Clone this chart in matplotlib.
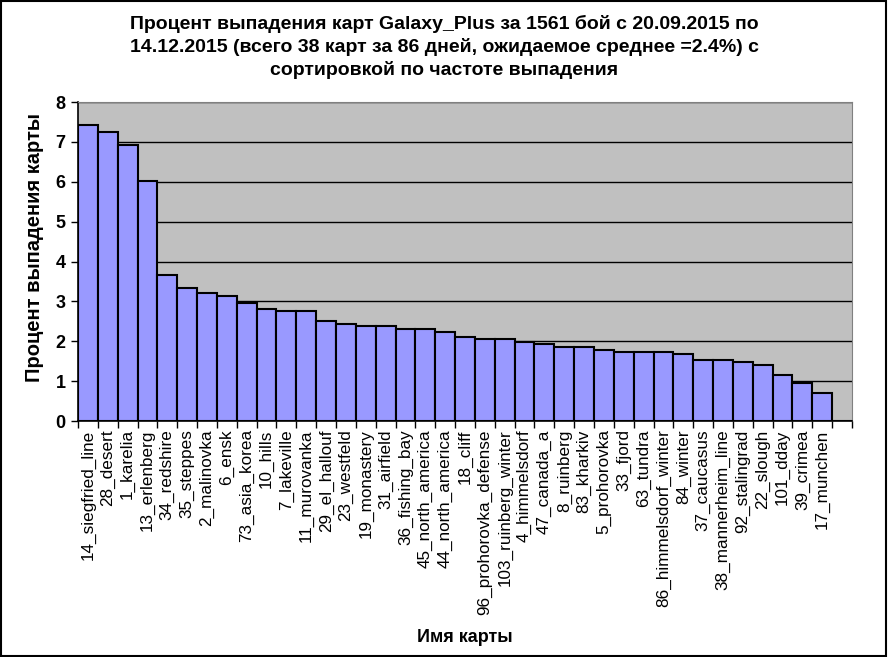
import matplotlib
matplotlib.use('Agg')
import matplotlib.pyplot as plt
import numpy as np

# названия карт (последняя категория пустая)
maps = ['14_siegfried_line', '28_desert', '1_karelia', '13_erlenberg', '34_redshire',
        '35_steppes', '2_malinovka', '6_ensk', '73_asia_korea', '10_hills',
        '7_lakeville', '11_murovanka', '29_el_hallouf', '23_westfeld', '19_monastery',
        '31_airfield', '36_fishing_bay', '45_north_america', '44_north_america', '18_cliff',
        '96_prohorovka_defense', '103_ruinberg_winter', '4_himmelsdorf', '47_canada_a',
        '8_ruinberg', '83_kharkiv', '5_prohorovka', '33_fjord', '63_tundra',
        '86_himmelsdorf_winter', '84_winter', '37_caucasus', '38_mannerheim_line',
        '92_stalingrad', '22_slough', '101_dday', '39_crimea', '17_munchen', '']

# процент выпадения
percent = [7.43, 7.24, 6.92, 6.02, 3.65, 3.33, 3.20, 3.14, 2.95, 2.82,
           2.75, 2.75, 2.50, 2.43, 2.37, 2.37, 2.31, 2.31, 2.24, 2.11,
           2.05, 2.05, 1.99, 1.92, 1.86, 1.86, 1.79, 1.73, 1.73, 1.73,
           1.67, 1.54, 1.54, 1.47, 1.41, 1.15, 0.96, 0.70, 0.0]

yticks = [0, 1, 2, 3, 4, 5, 6, 7, 8]

plt.rcParams['font.family'] = ['Liberation Sans', 'DejaVu Sans']

fig = plt.figure(figsize=(8.88, 6.57), dpi=100)
ax = fig.add_axes([78/888, 1-421/657, (852-78)/888, (421-102)/657])
ax.set_facecolor('#C0C0C0')

x = np.arange(len(maps))
ax.bar(x, percent, width=1.0, color='#9999FF', edgecolor='black', linewidth=1.5, zorder=3)

ax.set_xlim(-0.5, len(maps) - 0.5)
ax.set_ylim(0, 8)
ax.set_yticks(yticks)
ax.set_yticklabels([str(t) for t in yticks], fontsize=13, fontweight='bold')
ax.yaxis.grid(True, color='black', linewidth=1.0, zorder=0)
ax.set_axisbelow(True)

# тики на границах категорий, подписи в центрах
ax.set_xticks(np.arange(len(maps) + 1) - 0.5)
ax.set_xticklabels([])
ax.set_xticks(x, minor=True)
ax.set_xticklabels(maps, minor=True, rotation=90, fontsize=12.3, va='top', ha='center')
ax.tick_params(axis='x', which='major', length=5, width=1, direction='out')
ax.tick_params(axis='x', which='minor', length=0, pad=6)
ax.tick_params(axis='y', length=5, width=1, direction='out', pad=4)

for s in ['top', 'right']:
    ax.spines[s].set_color('#808080')
for s in ['left', 'bottom']:
    ax.spines[s].set_color('black')
    ax.spines[s].set_linewidth(1.2)

fig.text(0.5, 1-47/657,
         'Процент выпадения карт Galaxy_Plus за 1561 бой с 20.09.2015 по\n'
         '14.12.2015 (всего 38 карт за 86 дней, ожидаемое среднее =2.4%) с\n'
         'сортировкой по частоте выпадения',
         ha='center', va='center', fontsize=14, fontweight='bold', linespacing=1.35)

fig.text(35/888, 1-248/657, 'Процент выпадения карты', rotation=90,
         ha='center', va='center', fontsize=14.5, fontweight='bold')
fig.text(465/888, 1-637/657, 'Имя карты', ha='center', va='center',
         fontsize=13, fontweight='bold')

# рамка вокруг всей диаграммы
fig.patches.append(plt.Rectangle((0.001, 0.001), 0.997, 0.997, transform=fig.transFigure,
                                 fill=False, edgecolor='black', linewidth=1.5))

fig.savefig('out.png', dpi=100)
